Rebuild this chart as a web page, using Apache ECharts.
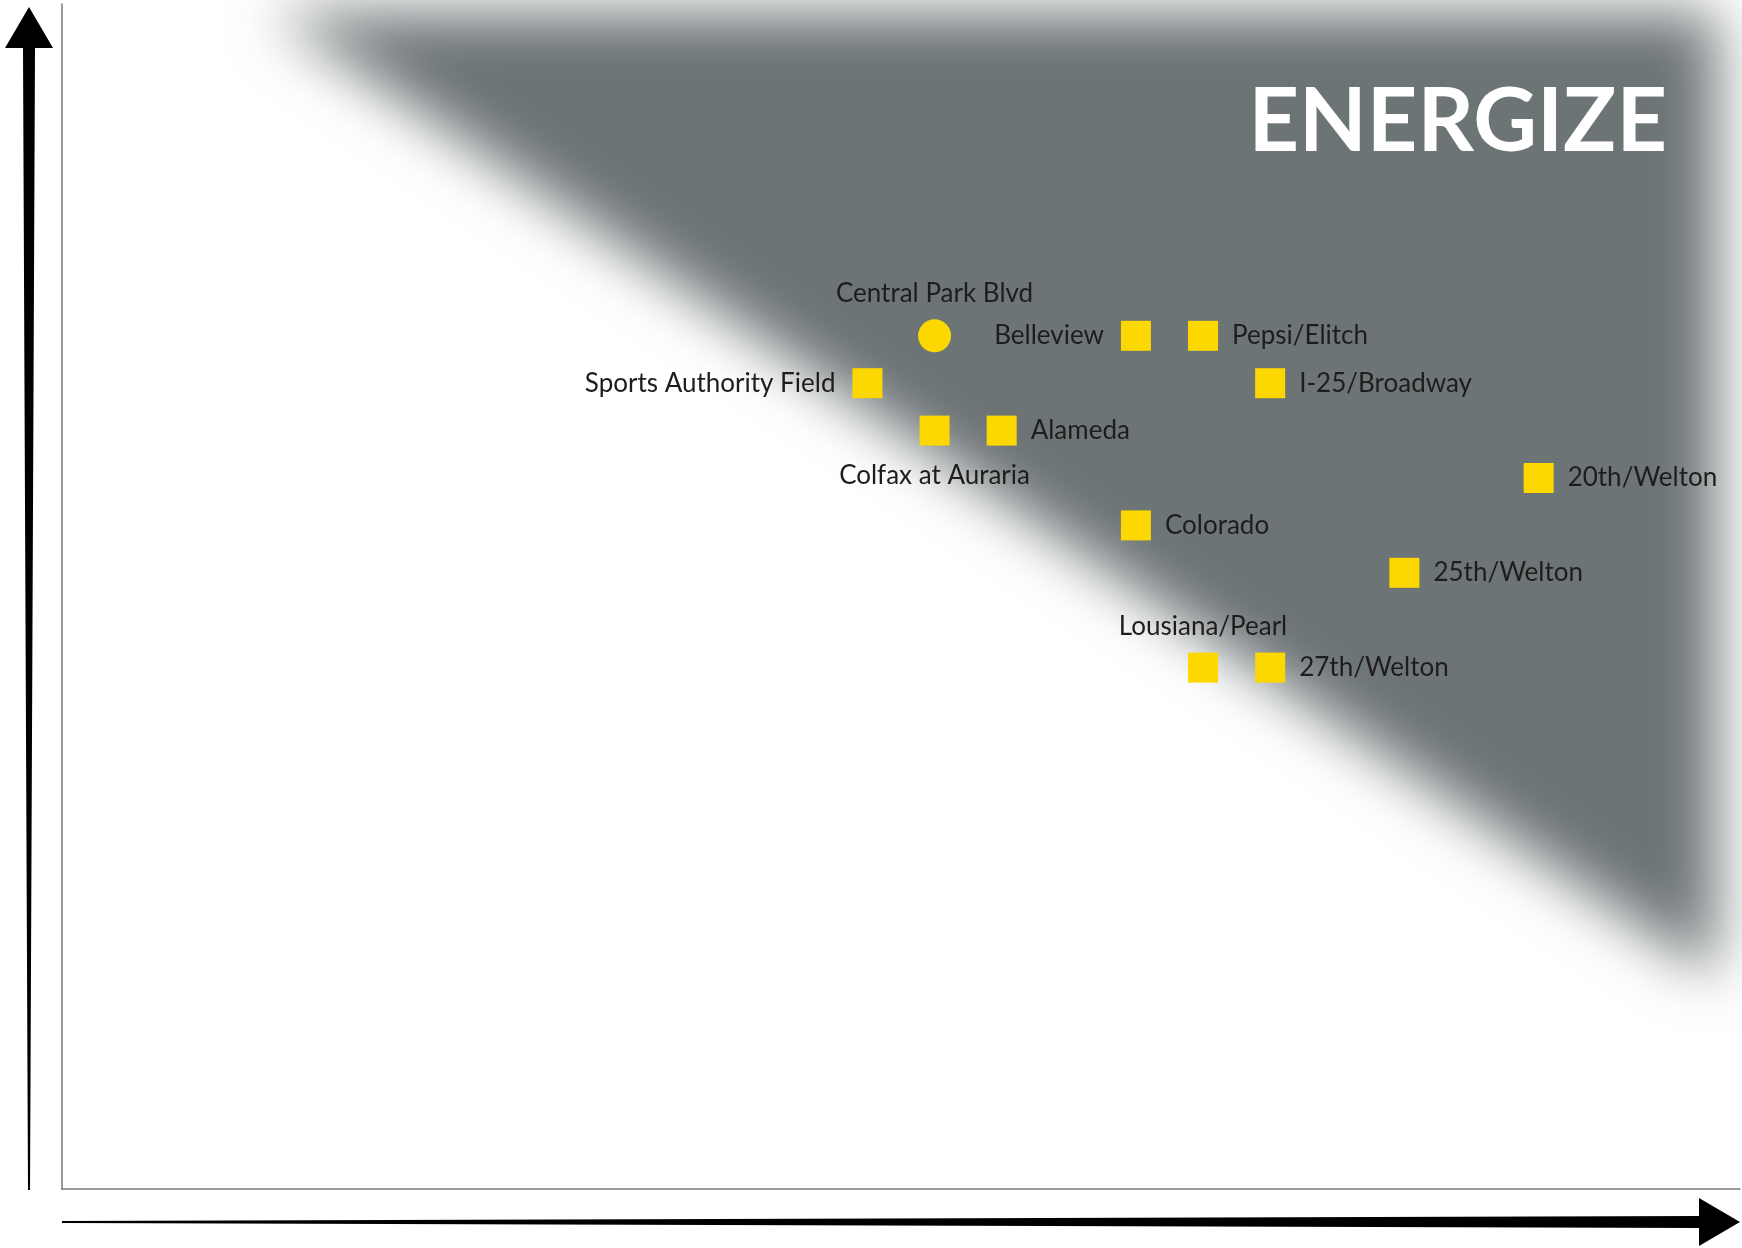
<!DOCTYPE html>
<html>
<head>
<meta charset="utf-8">
<title>Energize</title>
<script src="https://cdn.jsdelivr.net/npm/echarts@6/dist/echarts.min.js"></script>
<style>
  html, body { margin: 0; padding: 0; background: #fff; }
  #main { width: 1742px; height: 1248px; }
</style>
</head>
<body>
<div id="main"></div>
<script>
// stations (x / y on an unlabelled 0-100 scale)
var stationNames = ['Central Park Blvd', 'Belleview', 'Pepsi/Elitch', 'Sports Authority Field', 'I-25/Broadway',
  'Colfax at Auraria', 'Alameda', '20th/Welton', 'Colorado', '25th/Welton', 'Lousiana/Pearl', '27th/Welton']
var stationX = [52, 64, 68, 48, 72, 52, 56, 88, 64, 80, 68, 72]
var stationY = [72, 72, 72, 68, 68, 64, 64, 60, 56, 52, 44, 44]

// shaded zone corners
var zoneX = [12.5, 98.6, 98.6]
var zoneY = [99.3, 99.3, 17.9]
var zoneName = 'ENERGIZE'

// label placement, everything else goes right
var labelSide = {
  'Central Park Blvd': 'top',
  'Belleview': 'left',
  'Sports Authority Field': 'left',
  'Colfax at Auraria': 'bottom',
  'Lousiana/Pearl': 'top'
}
var roundStations = ['Central Park Blvd']

var zoneColor = '#6d7476'
var SHIFT = 3000 // polygon is drawn off screen, only its blurred shadow shows

var scatterData = stationNames.map(function (name, i) {
  var side = labelSide[name] || 'right'
  var round = roundStations.indexOf(name) >= 0
  var dist = { left: 17, right: 14, top: 13, bottom: 17 }
  return {
    name: name,
    value: [stationX[i], stationY[i]],
    symbol: round ? 'circle' : 'rect',
    symbolSize: round ? 33 : 30,
    label: { position: side, distance: dist[side] }
  }
})

var chart = echarts.init(document.getElementById('main'))

var axisCommon = {
  type: 'value',
  min: 0,
  max: 100,
  axisLine: { show: true, lineStyle: { color: '#7a7a7a', width: 1.5 } },
  axisTick: { show: false },
  axisLabel: { show: false },
  splitLine: { show: false }
}

chart.setOption({
  animation: false,
  grid: { left: 62, right: 2, top: 4, bottom: 59 },
  xAxis: axisCommon,
  yAxis: axisCommon,
  graphic: [
    {
      type: 'text',
      x: 1667,
      y: 123,
      z: 10,
      style: {
        text: zoneName,
        fill: '#ffffff',
        fontSize: 88,
        fontWeight: 'bold',
        fontFamily: 'Lato',
        align: 'right',
        verticalAlign: 'middle'
      }
    },
    {
      // vertical axis arrow
      type: 'polygon',
      shape: { points: [[29, 7], [53, 48], [35, 48], [30, 1190], [28, 1190], [23, 48], [5, 48]] },
      style: { fill: '#000' }
    },
    {
      // horizontal axis arrow
      type: 'polygon',
      shape: { points: [[62, 1221], [1699, 1216], [1699, 1198], [1740, 1222], [1699, 1246], [1699, 1228], [62, 1223]] },
      style: { fill: '#000' }
    }
  ],
  series: [
    {
      type: 'custom',
      silent: true,
      clip: false,
      z: 1,
      data: [[0, 0]],
      renderItem: function (params, api) {
        var pts = zoneX.map(function (x, i) {
          var p = api.coord([x, zoneY[i]])
          return [p[0] - SHIFT, p[1]]
        })
        return {
          type: 'polygon',
          shape: { points: pts },
          style: {
            fill: zoneColor,
            shadowBlur: 58,
            shadowColor: zoneColor,
            shadowOffsetX: SHIFT
          }
        }
      }
    },
    {
      type: 'scatter',
      z: 3,
      silent: true,
      itemStyle: { color: '#fcd800', opacity: 1 },
      label: {
        show: true,
        formatter: '{b}',
        color: '#1f1c1d',
        fontFamily: 'Lato',
        fontSize: 26
      },
      data: scatterData
    }
  ]
})
</script>
</body>
</html>
